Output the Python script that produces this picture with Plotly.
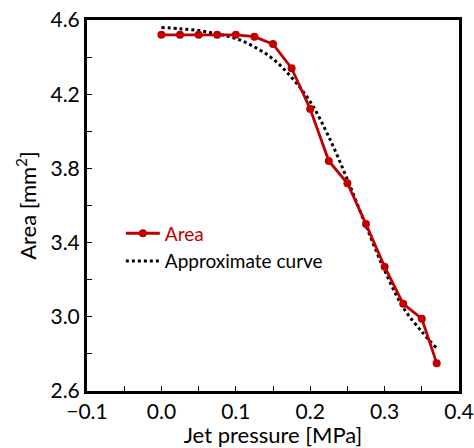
import plotly.graph_objects as go

# measured area vs jet pressure
pressure = [0.0, 0.025, 0.05, 0.075, 0.1, 0.125, 0.15, 0.175, 0.2, 0.225,
            0.25, 0.275, 0.3, 0.325, 0.35, 0.37]
area = [4.52, 4.52, 4.52, 4.52, 4.52, 4.51, 4.47, 4.34, 4.12, 3.84,
        3.72, 3.50, 3.27, 3.07, 2.99, 2.75]

# approximate (fitted) curve
fit_pressure = [0.0, 0.025, 0.05, 0.075, 0.1, 0.125, 0.15, 0.175, 0.2, 0.225,
                0.25, 0.275, 0.3, 0.325, 0.35, 0.37]
fit_area = [4.56, 4.553, 4.543, 4.525, 4.50, 4.455, 4.39, 4.29, 4.16, 3.97,
            3.74, 3.49, 3.25, 3.05, 2.92, 2.83]

FONT = "Lato"
RED = "#C00000"

fig = go.Figure()

fig.add_trace(
    go.Scatter(
        x=fit_pressure,
        y=fit_area,
        mode="lines",
        line=dict(color="black", width=3, dash="dot", shape="spline"),
        name="Approximate curve",
    )
)

fig.add_trace(
    go.Scatter(
        x=pressure,
        y=area,
        mode="lines+markers",
        line=dict(color=RED, width=2.8),
        marker=dict(color=RED, size=8),
        name=f"<span style='color:{RED}'>Area</span>",
    )
)

axis_common = dict(
    showgrid=False,
    zeroline=False,
    showline=True,
    linecolor="black",
    linewidth=3,
    mirror=True,
    ticks="inside",
    ticklen=5,
    tickwidth=1,
    tickcolor="black",
    automargin=False,
    tickfont=dict(family=FONT, size=21, color="black"),
)

fig.update_layout(
    width=474,
    height=448,
    plot_bgcolor="white",
    paper_bgcolor="white",
    margin=dict(l=87, r=15, t=20, b=57),
    font=dict(family=FONT, color="black"),
    showlegend=True,
    legend=dict(
        x=0.091,
        y=0.476,
        xanchor="left",
        yanchor="top",
        bgcolor="rgba(0,0,0,0)",
        traceorder="reversed",
        font=dict(family=FONT, size=19, color="black"),
        itemwidth=34,
    ),
    xaxis=dict(
        axis_common,
        range=[-0.1, 0.4],
        dtick=0.1,
        tickformat=".1f",
        minor=dict(dtick=0.05, ticks="inside", ticklen=5, tickcolor="black"),
        title=dict(text="Jet pressure [MPa]", font=dict(family=FONT, size=22), standoff=10),
    ),
    yaxis=dict(
        axis_common,
        range=[2.6, 4.6],
        dtick=0.4,
        tick0=2.6,
        tickformat=".1f",
        minor=dict(dtick=0.2, ticks="inside", ticklen=5, tickcolor="black"),
        title=dict(text="Area [mm<sup>2</sup>]", font=dict(family=FONT, size=22), standoff=8),
    ),
)

# page body has a default margin; drop it so the figure sits at the corner
fig.write_html(
    "out.html",
    config={"displayModeBar": False},
    post_script="document.body.style.margin='0';document.body.style.padding='0';",
)
